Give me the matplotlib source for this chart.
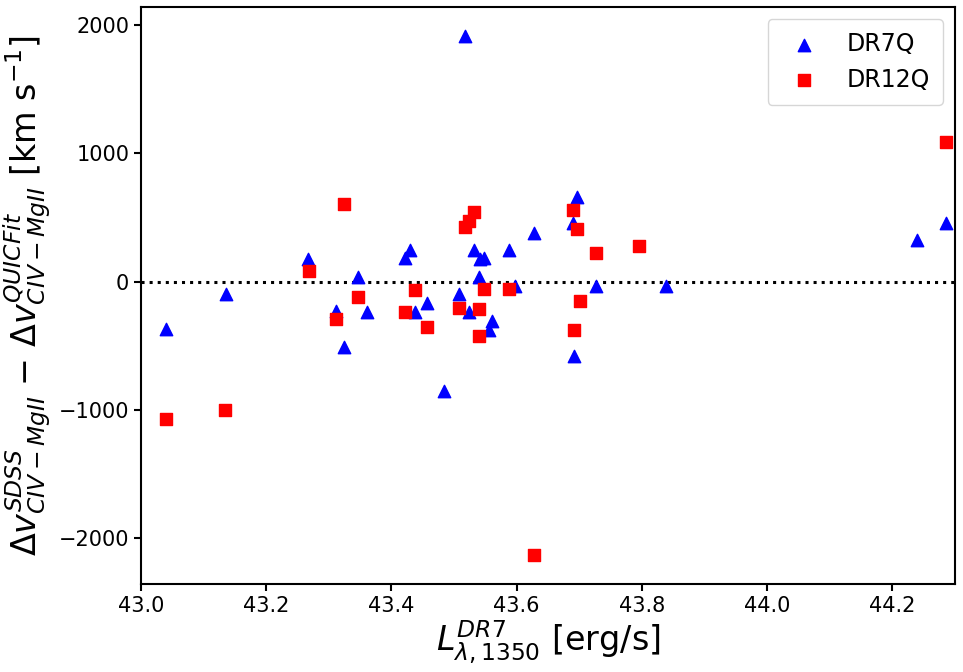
import matplotlib
matplotlib.use('Agg')
import matplotlib.pyplot as plt
import numpy as np

# luminosities and velocity-shift differences
dr7_L = [43.040, 43.135, 43.267, 43.312, 43.346, 43.361, 43.324, 43.421, 43.429,
         43.437, 43.456, 43.508, 43.524, 43.532, 43.540, 43.541, 43.548, 43.560,
         43.556, 43.588, 43.598, 43.627, 43.484, 43.697, 43.690, 43.726, 43.838,
         43.691, 43.517, 44.239, 44.285]
dr7_dv = [-370, -95, 180, -228, 39, -239, -511, 182, 247,
          -239, -168, -98, -234, 247, 39, 175, 182, -304,
          -376, 247, -31, 382, -850, 663, 455, -31, -31,
          -579, 1915, 324, 455]

dr12_L = [43.040, 43.134, 43.268, 43.324, 43.312, 43.347, 43.421, 43.437, 43.456,
          43.508, 43.540, 43.540, 43.547, 43.588, 43.517, 43.524, 43.532, 43.690,
          43.696, 43.726, 43.701, 43.691, 43.796, 43.627, 44.285]
dr12_dv = [-1072, -1000, 86, 606, -293, -117, -239, -65, -355,
           -207, -215, -421, -59, -59, 424, 473, 541, 559,
           408, 221, -150, -376, 278, -2130, 1086]

fig = plt.figure(figsize=(9.63, 6.72), dpi=100)
ax = fig.add_axes([141 / 963, 1 - 584 / 672, (955 - 141) / 963, (584 - 7) / 672])

ax.scatter(dr7_L, dr7_dv, marker='^', s=80, color='blue', label='DR7Q', zorder=3)
ax.scatter(dr12_L, dr12_dv, marker='s', s=80, color='red', label='DR12Q', zorder=3)
ax.axhline(0, color='k', linestyle=':', linewidth=2.2, zorder=2)

ax.set_xlim(43.0, 44.3)
ax.set_ylim(-2356, 2141)
ax.set_xticks(np.arange(43.0, 44.3, 0.2))
ax.set_yticks([-2000, -1000, 0, 1000, 2000])
ax.tick_params(labelsize=15, width=1.5, length=5)
for sp in ax.spines.values():
    sp.set_linewidth(1.5)

ax.set_xlabel(r'$L_{\lambda,1350}^{DR7}$ [erg/s]', fontsize=24, labelpad=2)
ax.set_ylabel(r'$\Delta v^{SDSS}_{CIV-MgII}$ $-$ $\Delta v^{QUICFit}_{CIV-MgII}$ [km s$^{-1}$]',
              fontsize=24, labelpad=4)
ax.legend(loc='upper right', fontsize=17, scatterpoints=1, borderpad=0.55)

fig.savefig('out.png', dpi=100)
